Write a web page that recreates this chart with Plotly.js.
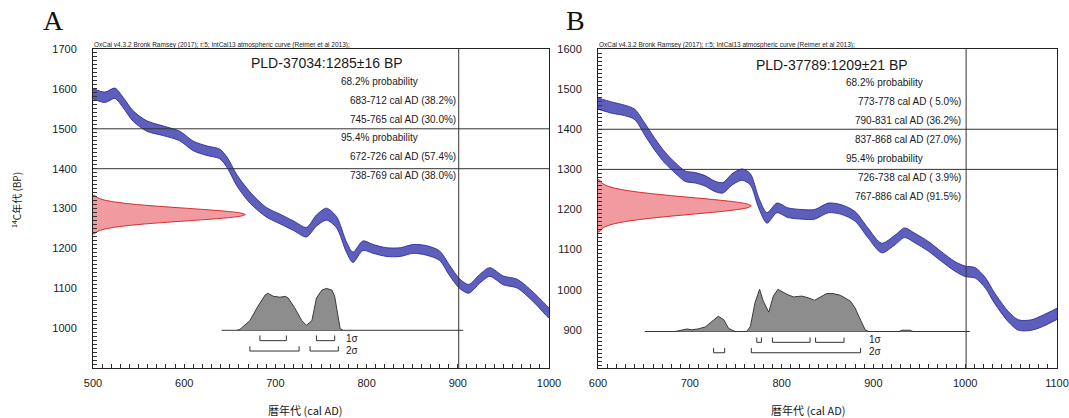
<!DOCTYPE html>
<html>
<head>
<meta charset="utf-8">
<script src="https://cdn.plot.ly/plotly-3.0.1.min.js"></script>
<style>html,body{margin:0;padding:0;background:#fff}#chart{width:1069px;height:418px}</style>
</head>
<body>
<div id="chart"></div>
<script>
// ---------- Panel A data ----------
const curveA_year = [500,513,524,533,544,559,577,595,610,625,639,647,658,672,690,705,720,734,745,756,767,778,785,796,807,822,837,851,866,880,891,902,912,924,935,950,965,983,997,1000];
const curveA_bp   = [1588,1579,1589,1566,1532,1507,1495,1482,1457,1445,1437,1416,1370,1328,1291,1274,1257,1241,1270,1286,1266,1203,1178,1207,1199,1191,1191,1199,1195,1182,1145,1112,1099,1124,1141,1120,1112,1078,1045,1038];
const curveA_err  = [13,13,13,13,13,13,12,12,12,12,12,13,14,14,12,12,12,12,14,15,14,13,13,12,11,11,11,11,12,12,13,12,11,11,11,11,11,12,13,13];

const distA_bp    = [1333,1329,1325,1321,1317,1313,1309,1305,1301,1297,1293,1289,1285,1281,1277,1273,1269,1265,1261,1257,1253,1249,1245,1241,1237];
const distA_w     = [1.9,3.8,7.3,13.3,22.6,36.1,54.2,76.5,101.3,126.1,147.4,161.9,167,161.9,147.4,126.1,101.3,76.5,54.2,36.1,22.6,13.3,7.3,3.8,1.9];

const calA_year   = [658,661,672,681,689,692,698,705,711,714,721,729,734,740,745,751,756,762,765,768,771,774];
const calA_prob   = [0,0.02,0.23,0.58,0.85,0.88,0.81,0.79,0.81,0.77,0.54,0.23,0.12,0.23,0.77,0.96,1.0,0.96,0.81,0.39,0.04,0];
const baseA_x     = [641,906];

const sig1A_from = [683,745], sig1A_to = [712,765];
const sig2A_from = [672,738], sig2A_to = [726,769];

const titleA = "PLD-37034:1285±16 BP";
const textA  = ["68.2% probability","683-712 cal AD (38.2%)","745-765 cal AD (30.0%)","95.4% probability","672-726 cal AD (57.4%)","738-769 cal AD (38.0%)"];
const hLinesA = [1500,1400];
const vLineA  = [901];

// ---------- Panel B data ----------
const curveB_year = [600,615,629,640,651,662,673,684,695,706,717,727,736,746,757,766,775,784,795,807,822,836,851,865,880,894,909,924,934,945,960,974,989,1000,1011,1022,1032,1047,1058,1072,1083,1100];
const curveB_bp   = [1464,1454,1447,1437,1400,1362,1329,1304,1283,1279,1271,1258,1254,1275,1287,1275,1217,1179,1204,1192,1188,1188,1204,1200,1183,1142,1104,1125,1142,1129,1108,1083,1058,1046,1042,1017,979,933,912,912,921,940];
const curveB_err  = [14,14,13,13,15,15,14,13,13,13,13,13,13,14,14,14,13,13,12,12,12,12,12,12,12,12,12,12,12,12,12,12,12,13,13,13,13,13,13,13,14,14];

const distB_bp    = [1274,1269,1264,1259,1254,1249,1244,1239,1234,1229,1224,1219,1214,1209,1204,1199,1194,1189,1184,1179,1174,1169,1164,1159,1154,1149,1144];
const distB_w     = [1.4,2.8,5.4,9.8,16.8,27.2,41.6,60.2,82.2,106.1,129.4,149.1,162.3,167,162.3,149.1,129.4,106.1,82.2,60.2,41.6,27.2,16.8,9.8,5.4,2.8,1.4];

const calB_year   = [684,688,697,702,709,717,724,731,737,742,747,750,762,766,771,776,780,786,791,796,806,813,822,829,836,842,849,856,864,875,880,885,891,895];
const calB_prob   = [0,0.02,0.06,0.04,0.06,0.11,0.24,0.36,0.28,0.08,0.02,0,0,0.12,0.68,1.0,0.72,0.46,0.84,1.0,0.88,0.82,0.84,0.80,0.74,0.82,0.90,0.90,0.86,0.72,0.56,0.32,0.04,0];
const calB2_year  = [928,931,940,943];
const calB2_prob  = [0,0.03,0.03,0];
const baseB_x     = [651,1005];

const sig1B_from = [773,790,837], sig1B_to = [778,831,868];
const sig2B_from = [726,767],     sig2B_to = [738,886];

const titleB = "PLD-37789:1209±21 BP";
const textB  = ["68.2% probability","773-778 cal AD ( 5.0%)","790-831 cal AD (36.2%)","837-868 cal AD (27.0%)","95.4% probability","726-738 cal AD ( 3.9%)","767-886 cal AD (91.5%)"];
const hLinesB = [1400,1300];
const vLineB  = [1001];

const header = "OxCal v4.3.2 Bronk Ramsey (2017); r:5; IntCal13 atmospheric curve (Reimer et al 2013);";
const xTitle = "暦年代 (cal AD)";
const yTitle = "<sup>14</sup>C年代 (BP)";

// ---------- helpers ----------
const W = 1069, H = 418;
const PX = x => x / W, PY = y => 1 - y / H;
const FONT = "Liberation Sans, Arial, sans-serif";
const CJK = "Noto Sans CJK JP, sans-serif";
const BAND_FILL = "#5e5ebc", BAND_LINE = "#2e2e96";

function band(xs, ys, es, xa, ya) {
  const lo = ys.map((v, i) => v - es[i]);
  const hi = ys.map((v, i) => v + es[i]);
  const ln = {color: BAND_LINE, width: 0.9, shape: 'spline', smoothing: 0.8};
  return [
    {x: xs, y: lo, xaxis: xa, yaxis: ya, mode: 'lines', line: ln, hoverinfo: 'skip', showlegend: false},
    {x: xs, y: hi, xaxis: xa, yaxis: ya, mode: 'lines', line: ln, fill: 'tonexty', fillcolor: BAND_FILL, hoverinfo: 'skip', showlegend: false}
  ];
}
function redDist(bps, ws, x0, xa, ya) {
  return {x: [x0, ...ws.map(w => x0 + w), x0], y: [bps[0], ...bps, bps[bps.length - 1]],
    xaxis: xa, yaxis: ya, mode: 'lines', fill: 'toself', fillcolor: 'rgba(240,150,156,0.95)',
    line: {color: '#d42a2a', width: 1, shape: 'spline', smoothing: 0.6}, hoverinfo: 'skip', showlegend: false};
}
function calDist(years, probs, base, scale, xa, ya) {
  return {x: years, y: probs.map(p => base + p * scale), xaxis: xa, yaxis: ya, mode: 'lines',
    fill: 'toself', fillcolor: '#8d8d8d', line: {color: '#3a3a3a', width: 1}, hoverinfo: 'skip', showlegend: false};
}
function baseLine(xs, base, xa, ya) {
  return {x: xs, y: [base, base], xaxis: xa, yaxis: ya, mode: 'lines', line: {color: '#333', width: 1}, hoverinfo: 'skip', showlegend: false};
}
function brackets(froms, tos, yLine, yTop, xa, ya) {
  const x = [], y = [];
  froms.forEach((f, i) => { x.push(f, f, tos[i], tos[i], null); y.push(yTop, yLine, yLine, yTop, null); });
  return {x, y, xaxis: xa, yaxis: ya, mode: 'lines', line: {color: '#333', width: 1}, hoverinfo: 'skip', showlegend: false};
}

const baseA = 995, baseB = 896, calScale = 105;

const traces = [
  ...band(curveA_year, curveA_bp, curveA_err, 'x', 'y'),
  redDist(distA_bp, distA_w, 500, 'x', 'y'),
  baseLine(baseA_x, baseA, 'x', 'y'),
  calDist(calA_year, calA_prob, baseA, calScale, 'x', 'y'),
  brackets(sig1A_from, sig1A_to, baseA - 26, baseA - 13, 'x', 'y'),
  brackets(sig2A_from, sig2A_to, baseA - 52, baseA - 40, 'x', 'y'),

  ...band(curveB_year, curveB_bp, curveB_err, 'x2', 'y2'),
  redDist(distB_bp, distB_w, 600, 'x2', 'y2'),
  baseLine(baseB_x, baseB, 'x2', 'y2'),
  calDist(calB_year, calB_prob, baseB, calScale, 'x2', 'y2'),
  calDist(calB2_year, calB2_prob, baseB, calScale, 'x2', 'y2'),
  brackets(sig1B_from, sig1B_to, baseB - 27, baseB - 15, 'x2', 'y2'),
  brackets(sig2B_from, sig2B_to, baseB - 53, baseB - 41, 'x2', 'y2')
];

function xAxis(dom, rng, anchor) {
  return {domain: dom, range: rng, anchor: anchor, showline: true, mirror: true, linecolor: '#222', linewidth: 1,
    ticks: 'inside', ticklen: 4, tickcolor: '#333', tickwidth: 1, dtick: 100, tick0: 0,
    minor: {dtick: 10, ticks: 'inside', ticklen: 4, tickcolor: '#333', tickwidth: 1, showgrid: false},
    showgrid: false, zeroline: false, tickfont: {family: FONT, size: 11, color: '#222'}, ticklabelstandoff: 5, fixedrange: true};
}
function yAxis(rng, anchor) {
  return {domain: [PY(368), PY(49)], range: rng, anchor: anchor, showline: true, mirror: true, linecolor: '#222', linewidth: 1,
    ticks: 'inside', ticklen: 4, tickcolor: '#333', tickwidth: 1, dtick: 100, tick0: 0,
    minor: {dtick: 10, ticks: 'inside', ticklen: 4, tickcolor: '#333', tickwidth: 1, showgrid: false},
    showgrid: false, zeroline: false, tickfont: {family: FONT, size: 11, color: '#222'}, ticklabelstandoff: 13, fixedrange: true};
}

const ann = [];
function txt(text, x, y, opts) {
  ann.push(Object.assign({text, x: PX(x), y: PY(y), xref: 'paper', yref: 'paper', showarrow: false,
    xanchor: 'left', yanchor: 'middle', font: {family: FONT, size: 10, color: '#1a1a1a'}}, opts || {}));
}
// panel letters
txt("A", 53, 20, {xanchor: 'center', font: {family: "Liberation Serif, Times New Roman, serif", size: 28, color: '#111'}});
txt("B", 575, 20, {xanchor: 'center', font: {family: "Liberation Serif, Times New Roman, serif", size: 28, color: '#111'}});
// headers
txt(header, 92, 45, {font: {family: FONT, size: 6.5, color: '#222'}});
txt(header, 597, 45, {font: {family: FONT, size: 6.5, color: '#222'}});
// sample titles
txt(titleA, 249, 63, {font: {family: FONT, size: 14, color: '#1a1a1a'}});
txt(titleB, 754, 65, {font: {family: FONT, size: 14, color: '#1a1a1a'}});
// probability text
textA.forEach((t, i) => {
  const yy = 81.7 + 18.7 * i;
  if (t.indexOf('probability') >= 0) txt(t, 339, yy);
  else txt(t, 458, yy, {xanchor: 'right'});
});
textB.forEach((t, i) => {
  const yy = 82.3 + 19 * i;
  if (t.indexOf('probability') >= 0) txt(t, 844, yy);
  else txt(t, 963, yy, {xanchor: 'right'});
});
// sigma labels (data-anchored)
function sigLabel(text, x, y, xa, ya) {
  ann.push({text, x, y, xref: xa, yref: ya, showarrow: false, xanchor: 'left', yanchor: 'middle', xshift: 6,
    font: {family: FONT, size: 10, color: '#1a1a1a'}});
}
sigLabel("1σ", Math.max(...sig2A_to), baseA - 20, 'x', 'y');
sigLabel("2σ", Math.max(...sig2A_to), baseA - 50, 'x', 'y');
sigLabel("1σ", Math.max(...sig2B_to), baseB - 21, 'x2', 'y2');
sigLabel("2σ", Math.max(...sig2B_to), baseB - 51, 'x2', 'y2');
// axis titles
txt(xTitle, 305, 410, {xanchor: 'center', font: {family: CJK, size: 11, color: '#1a1a1a'}});
txt(xTitle, 808, 410, {xanchor: 'center', font: {family: CJK, size: 11, color: '#1a1a1a'}});
txt(yTitle, 16, 200, {xanchor: 'center', textangle: -90, font: {family: CJK, size: 10, color: '#1a1a1a'}});

const shapes = [];
const lineStyle = {color: '#333', width: 1};
hLinesA.forEach(v => shapes.push({type: 'line', xref: 'x domain', yref: 'y', x0: 0, x1: 1, y0: v, y1: v, line: lineStyle}));
vLineA.forEach(v => shapes.push({type: 'line', xref: 'x', yref: 'y domain', x0: v, x1: v, y0: 0, y1: 1, line: lineStyle}));
hLinesB.forEach(v => shapes.push({type: 'line', xref: 'x2 domain', yref: 'y2', x0: 0, x1: 1, y0: v, y1: v, line: lineStyle}));
vLineB.forEach(v => shapes.push({type: 'line', xref: 'x2', yref: 'y2 domain', x0: v, x1: v, y0: 0, y1: 1, line: lineStyle}));

const layout = {
  width: W, height: H, margin: {l: 0, r: 0, t: 0, b: 0},
  paper_bgcolor: '#fff', plot_bgcolor: '#fff', showlegend: false,
  font: {family: FONT, color: '#222'},
  xaxis: xAxis([PX(93), PX(549)], [500, 1000], 'y'),
  yaxis: yAxis([900.5, 1700], 'x'),
  xaxis2: xAxis([PX(598), PX(1057)], [600, 1100], 'y2'),
  yaxis2: yAxis([805, 1600], 'x2'),
  annotations: ann,
  shapes: shapes
};

Plotly.newPlot('chart', traces, layout, {displayModeBar: false, staticPlot: true});
</script>
</body>
</html>
